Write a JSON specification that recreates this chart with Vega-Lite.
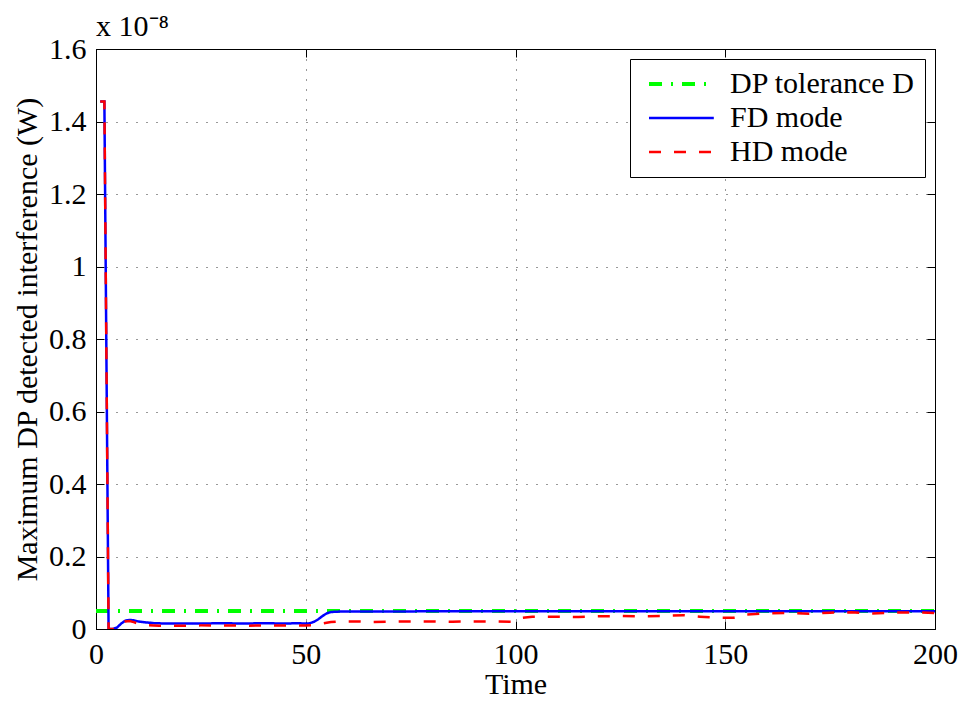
{
  "$schema": "https://vega.github.io/schema/vega-lite/v6.json",
  "width": 839,
  "height": 580,
  "autosize": {"type": "none"},
  "padding": {"left": 96, "top": 49, "right": 28, "bottom": 73},
  "background": "white",
  "title": {"text": "x 10⁻⁸", "anchor": "start", "frame": "group", "font": "Liberation Serif", "fontSize": 30, "fontWeight": "normal", "color": "black", "offset": -8},
  "config": {
    "font": "Liberation Serif",
    "view": {"stroke": "black", "strokeWidth": 1},
    "axis": {
      "labelFont": "Liberation Serif", "labelFontSize": 30, "labelColor": "black",
      "titleFont": "Liberation Serif", "titleFontSize": 30, "titleFontWeight": "normal", "titleColor": "black",
      "domainColor": "black", "tickColor": "black", "tickSize": -8, "tickWidth": 1
    },
    "legend": {
      "labelFont": "Liberation Serif", "labelFontSize": 30, "labelColor": "black", "labelLimit": 400,
      "strokeColor": "black", "fillColor": "white", "padding": 10,
      "symbolType": "M-1,0H9.8", "symbolSize": 144, "labelOffset": 60, "rowPadding": 4, "cornerRadius": 0
    }
  },
  "data": {"values": [
    {"series": "DP tolerance D", "t": 0, "v": 0.05},
    {"series": "DP tolerance D", "t": 200, "v": 0.05},
    {"series": "FD mode", "t": 1, "v": 1.455},
    {"series": "FD mode", "t": 2, "v": 1.455},
    {"series": "FD mode", "t": 3, "v": 0.0},
    {"series": "FD mode", "t": 4, "v": 0.0},
    {"series": "FD mode", "t": 5, "v": 0.004},
    {"series": "FD mode", "t": 6, "v": 0.015},
    {"series": "FD mode", "t": 7, "v": 0.023},
    {"series": "FD mode", "t": 8, "v": 0.025},
    {"series": "FD mode", "t": 9, "v": 0.024},
    {"series": "FD mode", "t": 10, "v": 0.021},
    {"series": "FD mode", "t": 12, "v": 0.018},
    {"series": "FD mode", "t": 14, "v": 0.016},
    {"series": "FD mode", "t": 17, "v": 0.015},
    {"series": "FD mode", "t": 20, "v": 0.015},
    {"series": "FD mode", "t": 25, "v": 0.015},
    {"series": "FD mode", "t": 30, "v": 0.016},
    {"series": "FD mode", "t": 35, "v": 0.015},
    {"series": "FD mode", "t": 40, "v": 0.016},
    {"series": "FD mode", "t": 45, "v": 0.015},
    {"series": "FD mode", "t": 48, "v": 0.016},
    {"series": "FD mode", "t": 50, "v": 0.015},
    {"series": "FD mode", "t": 51, "v": 0.016},
    {"series": "FD mode", "t": 52, "v": 0.02},
    {"series": "FD mode", "t": 53, "v": 0.027},
    {"series": "FD mode", "t": 54, "v": 0.036},
    {"series": "FD mode", "t": 55, "v": 0.043},
    {"series": "FD mode", "t": 56, "v": 0.047},
    {"series": "FD mode", "t": 58, "v": 0.048},
    {"series": "FD mode", "t": 60, "v": 0.048},
    {"series": "FD mode", "t": 70, "v": 0.048},
    {"series": "FD mode", "t": 80, "v": 0.049},
    {"series": "FD mode", "t": 100, "v": 0.049},
    {"series": "FD mode", "t": 150, "v": 0.049},
    {"series": "FD mode", "t": 200, "v": 0.049},
    {"series": "HD mode", "t": 1, "v": 1.455},
    {"series": "HD mode", "t": 2, "v": 1.455},
    {"series": "HD mode", "t": 3, "v": 0.0},
    {"series": "HD mode", "t": 4, "v": 0.0},
    {"series": "HD mode", "t": 5, "v": 0.003},
    {"series": "HD mode", "t": 6, "v": 0.013},
    {"series": "HD mode", "t": 7, "v": 0.021},
    {"series": "HD mode", "t": 8, "v": 0.022},
    {"series": "HD mode", "t": 9, "v": 0.019},
    {"series": "HD mode", "t": 10, "v": 0.015},
    {"series": "HD mode", "t": 12, "v": 0.011},
    {"series": "HD mode", "t": 15, "v": 0.009},
    {"series": "HD mode", "t": 20, "v": 0.009},
    {"series": "HD mode", "t": 25, "v": 0.01},
    {"series": "HD mode", "t": 30, "v": 0.01},
    {"series": "HD mode", "t": 35, "v": 0.009},
    {"series": "HD mode", "t": 40, "v": 0.01},
    {"series": "HD mode", "t": 45, "v": 0.01},
    {"series": "HD mode", "t": 50, "v": 0.01},
    {"series": "HD mode", "t": 52, "v": 0.011},
    {"series": "HD mode", "t": 54, "v": 0.015},
    {"series": "HD mode", "t": 56, "v": 0.019},
    {"series": "HD mode", "t": 58, "v": 0.021},
    {"series": "HD mode", "t": 62, "v": 0.021},
    {"series": "HD mode", "t": 66, "v": 0.019},
    {"series": "HD mode", "t": 70, "v": 0.02},
    {"series": "HD mode", "t": 75, "v": 0.021},
    {"series": "HD mode", "t": 80, "v": 0.021},
    {"series": "HD mode", "t": 85, "v": 0.02},
    {"series": "HD mode", "t": 90, "v": 0.021},
    {"series": "HD mode", "t": 95, "v": 0.021},
    {"series": "HD mode", "t": 99, "v": 0.02},
    {"series": "HD mode", "t": 101, "v": 0.03},
    {"series": "HD mode", "t": 104, "v": 0.034},
    {"series": "HD mode", "t": 110, "v": 0.034},
    {"series": "HD mode", "t": 115, "v": 0.033},
    {"series": "HD mode", "t": 120, "v": 0.035},
    {"series": "HD mode", "t": 125, "v": 0.036},
    {"series": "HD mode", "t": 130, "v": 0.035},
    {"series": "HD mode", "t": 135, "v": 0.036},
    {"series": "HD mode", "t": 140, "v": 0.038},
    {"series": "HD mode", "t": 144, "v": 0.034},
    {"series": "HD mode", "t": 148, "v": 0.031},
    {"series": "HD mode", "t": 152, "v": 0.031},
    {"series": "HD mode", "t": 155, "v": 0.04},
    {"series": "HD mode", "t": 160, "v": 0.043},
    {"series": "HD mode", "t": 165, "v": 0.044},
    {"series": "HD mode", "t": 170, "v": 0.042},
    {"series": "HD mode", "t": 175, "v": 0.045},
    {"series": "HD mode", "t": 180, "v": 0.046},
    {"series": "HD mode", "t": 185, "v": 0.043},
    {"series": "HD mode", "t": 190, "v": 0.045},
    {"series": "HD mode", "t": 195, "v": 0.046},
    {"series": "HD mode", "t": 200, "v": 0.044}
  ]},
  "layer": [
    {
      "mark": {"type": "line", "clip": true},
      "encoding": {
        "x": {"field": "t", "type": "quantitative", "scale": {"domain": [0, 200], "nice": false, "zero": false},
              "axis": {"orient": "bottom", "values": [0, 50, 100, 150, 200], "title": "Time", "grid": true, "gridDash": [1, 9], "gridColor": "black", "gridOpacity": 0.8, "labelPadding": 18, "titlePadding": 0, "labelFlush": false}},
        "y": {"field": "v", "type": "quantitative", "scale": {"domain": [0, 1.6], "nice": false},
              "axis": {"orient": "left", "values": [0, 0.2, 0.4, 0.6, 0.8, 1, 1.2, 1.4, 1.6], "format": "~g", "title": "Maximum DP detected interference (W)", "grid": true, "gridDash": [1, 9], "gridColor": "black", "gridOpacity": 0.8, "labelPadding": 18, "titlePadding": 6, "labelFlush": false}},
        "color": {"field": "series", "type": "nominal",
                  "scale": {"domain": ["DP tolerance D", "FD mode", "HD mode"], "range": ["#00ff00", "#0000ff", "#ff0000"]},
                  "legend": {"title": null, "orient": "top-right", "offset": 10}},
        "strokeDash": {"field": "series", "type": "nominal",
                  "scale": {"domain": ["DP tolerance D", "FD mode", "HD mode"], "range": [[13, 9, 2, 9], [1, 0], [12, 13]]},
                  "legend": {"title": null, "orient": "top-right", "offset": 10}},
        "strokeWidth": {"field": "series", "type": "nominal",
                  "scale": {"type": "ordinal", "domain": ["DP tolerance D", "FD mode", "HD mode"], "range": [4, 2.5, 2.5]},
                  "legend": {"title": null, "orient": "top-right", "offset": 10}}
      }
    },
    {
      "mark": {"type": "point", "opacity": 0},
      "encoding": {
        "x": {"field": "t", "type": "quantitative", "axis": {"orient": "top", "values": [0, 50, 100, 150, 200], "labels": false, "title": null, "grid": false, "domain": false}},
        "y": {"field": "v", "type": "quantitative", "axis": {"orient": "right", "values": [0, 0.2, 0.4, 0.6, 0.8, 1, 1.2, 1.4, 1.6], "labels": false, "title": null, "grid": false, "domain": false}}
      }
    }
  ],
  "resolve": {"axis": {"x": "independent", "y": "independent"}}
}
